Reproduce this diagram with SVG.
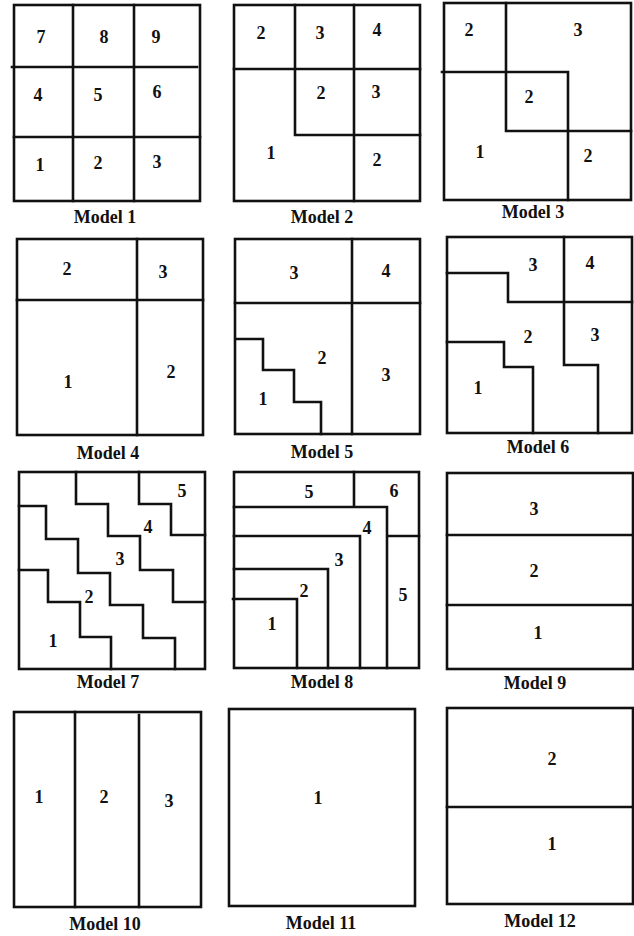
<svg xmlns="http://www.w3.org/2000/svg" width="634" height="936" viewBox="0 0 634 936">
<style>
.b{fill:#fff;stroke:#111;stroke-width:2.6}
.l{fill:none;stroke:#111;stroke-width:2.6;stroke-linejoin:miter;stroke-linecap:square}
.n{font-family:"Liberation Serif",serif;font-weight:bold;font-size:18px;fill:#111;text-anchor:middle}
.t{font-family:"Liberation Serif",serif;font-weight:bold;font-size:18px;fill:#111;text-anchor:middle}
</style>
<rect width="634" height="936" fill="#fff"/>
<g id="model1">
<rect class="b" x="14" y="5" width="186" height="196"/>
<path class="l" d="M73 5V201M134 5V201M12 67H197M14 137H200"/>
<text class="n" x="41" y="43">7</text><text class="n" x="104" y="43">8</text><text class="n" x="156" y="43">9</text>
<text class="n" x="38" y="101">4</text><text class="n" x="98" y="101">5</text><text class="n" x="157" y="98">6</text>
<text class="n" x="40" y="171">1</text><text class="n" x="98" y="169">2</text><text class="n" x="157" y="168">3</text>
<text class="t" x="105" y="223">Model 1</text>
</g>
<g id="model2">
<rect class="b" x="234" y="5" width="186" height="196"/>
<path class="l" d="M295 5V135H420M354 5V201M234 69H420"/>
<text class="n" x="261" y="39">2</text><text class="n" x="320" y="39">3</text><text class="n" x="377" y="36">4</text>
<text class="n" x="321" y="99">2</text><text class="n" x="376" y="98">3</text>
<text class="n" x="271" y="159">1</text><text class="n" x="377" y="166">2</text>
<text class="t" x="322" y="223">Model 2</text>
</g>
<g id="model3">
<rect class="b" x="444" y="3" width="187" height="197"/>
<path class="l" d="M506 3V131H631M442 72H568V200"/>
<text class="n" x="469" y="36">2</text><text class="n" x="578" y="36">3</text>
<text class="n" x="529" y="103">2</text>
<text class="n" x="480" y="158">1</text><text class="n" x="588" y="162">2</text>
<text class="t" x="533" y="218">Model 3</text>
</g>
<g id="model4">
<rect class="b" x="17" y="239" width="186" height="196"/>
<path class="l" d="M137 239V435M17 300H203"/>
<text class="n" x="67" y="275">2</text><text class="n" x="163" y="278">3</text>
<text class="n" x="68" y="388">1</text><text class="n" x="171" y="378">2</text>
<text class="t" x="108" y="459">Model 4</text>
</g>
<g id="model5">
<rect class="b" x="235" y="239" width="185" height="195"/>
<path class="l" d="M352 239V434M235 303H420M237 339H263V370H294V402H321V434"/>
<text class="n" x="294" y="279">3</text><text class="n" x="386" y="277">4</text>
<text class="n" x="322" y="364">2</text><text class="n" x="386" y="381">3</text>
<text class="n" x="263" y="405">1</text>
<text class="t" x="322" y="458">Model 5</text>
</g>
<g id="model6">
<rect class="b" x="447" y="237" width="185" height="196"/>
<path class="l" d="M564 237V365H598V433M508 302H632M447 273H508V302M447 342H504V367H533V433"/>
<text class="n" x="533" y="271">3</text><text class="n" x="590" y="269">4</text>
<text class="n" x="528" y="343">2</text><text class="n" x="595" y="341">3</text>
<text class="n" x="478" y="394">1</text>
<text class="t" x="538" y="453">Model 6</text>
</g>
<g id="model7">
<rect class="b" x="19" y="472" width="186" height="197"/>
<path class="l" d="M76 472V504H108V536H140V570H173V602H205M139 472V504H171V535H205M19 506H46V539H78V573H110V605H143V638H175V669M19 570H48V602H80V637H111V669"/>
<text class="n" x="182" y="497">5</text><text class="n" x="148" y="533">4</text>
<text class="n" x="120" y="565">3</text><text class="n" x="89" y="603">2</text>
<text class="n" x="53" y="647">1</text>
<text class="t" x="108" y="688">Model 7</text>
</g>
<g id="model8">
<rect class="b" x="234" y="472" width="185" height="196"/>
<path class="l" d="M354 472V507M234 507H387V668M387 536H419M234 536H360V668M234 569H328V668M233 599H297V668"/>
<text class="n" x="309" y="498">5</text><text class="n" x="394" y="497">6</text>
<text class="n" x="367" y="534">4</text><text class="n" x="339" y="566">3</text>
<text class="n" x="304" y="597">2</text><text class="n" x="272" y="630">1</text>
<text class="n" x="403" y="601">5</text>
<text class="t" x="322" y="688">Model 8</text>
</g>
<g id="model9">
<rect class="b" x="447" y="473" width="186" height="196"/>
<path class="l" d="M447 535H633M447 605H633"/>
<text class="n" x="534" y="515">3</text><text class="n" x="534" y="577">2</text><text class="n" x="538" y="639">1</text>
<text class="t" x="535" y="689">Model 9</text>
</g>
<g id="model10">
<rect class="b" x="14" y="712" width="187" height="195"/>
<path class="l" d="M75 712V907M139 715V907"/>
<text class="n" x="39" y="803">1</text><text class="n" x="104" y="803">2</text><text class="n" x="169" y="807">3</text>
<text class="t" x="105" y="930">Model 10</text>
</g>
<g id="model11">
<rect class="b" x="229" y="709" width="186" height="197"/>
<text class="n" x="318" y="804">1</text>
<text class="t" x="321" y="929">Model 11</text>
</g>
<g id="model12">
<rect class="b" x="447" y="708" width="186" height="196"/>
<path class="l" d="M447 807H633"/>
<text class="n" x="552" y="765">2</text><text class="n" x="552" y="850">1</text>
<text class="t" x="540" y="927">Model 12</text>
</g>
</svg>
